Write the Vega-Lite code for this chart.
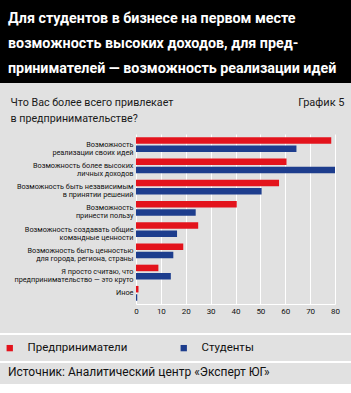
{
  "$schema": "https://vega.github.io/schema/vega-lite/v6.json",
  "background": "#e1e1e1",
  "padding": 0,
  "spacing": 0,
  "columns": 1,
  "align": "none",
  "config": {
    "view": {"stroke": null},
    "font": "Roboto"
  },
  "concat": [
    {
      "width": 351,
      "height": 83,
      "view": {"fill": "#000000", "stroke": null},
      "title": {
        "text": ["Для студентов в бизнесе на первом месте", "возможность высоких доходов, для пред-", "принимателей — возможность реализации идей"],
        "orient": "top", "anchor": "start", "frame": "group",
        "offset": -87, "baseline": "alphabetic", "lineHeight": 25,
        "fontSize": 14.3, "font": "Roboto", "fontWeight": "bold",
        "color": "#ffffff", "dx": 8
      },
      "data": {"values": [{}]},
      "mark": {"type": "text"},
      "encoding": {}
    },
    {
      "width": 351,
      "height": 170,
      "data": {"values": [
        {"cat": "Возможность\nреализации своих идей", "series": "Предприниматели", "value": 78.5},
        {"cat": "Возможность\nреализации своих идей", "series": "Студенты", "value": 64.5},
        {"cat": "Возможность более высоких\nличных доходов", "series": "Предприниматели", "value": 60.5},
        {"cat": "Возможность более высоких\nличных доходов", "series": "Студенты", "value": 80},
        {"cat": "Возможность быть независимым\nв принятии решений", "series": "Предприниматели", "value": 57.5},
        {"cat": "Возможность быть независимым\nв принятии решений", "series": "Студенты", "value": 50.5},
        {"cat": "Возможность\nпринести пользу", "series": "Предприниматели", "value": 40.5},
        {"cat": "Возможность\nпринести пользу", "series": "Студенты", "value": 24},
        {"cat": "Возможность создавать общие\nкомандные ценности", "series": "Предприниматели", "value": 25},
        {"cat": "Возможность создавать общие\nкомандные ценности", "series": "Студенты", "value": 16.5},
        {"cat": "Возможность быть ценностью\nдля города, региона, страны", "series": "Предприниматели", "value": 19},
        {"cat": "Возможность быть ценностью\nдля города, региона, страны", "series": "Студенты", "value": 15},
        {"cat": "Я просто считаю, что\nпредпринимательство — это круто", "series": "Предприниматели", "value": 9},
        {"cat": "Я просто считаю, что\nпредпринимательство — это круто", "series": "Студенты", "value": 14},
        {"cat": "Иное", "series": "Предприниматели", "value": 1},
        {"cat": "Иное", "series": "Студенты", "value": 0.5}
      ]},
      "layer": [
        {
          "mark": {"type": "bar"},
          "encoding": {
            "y": {
              "field": "cat", "type": "nominal", "sort": null,
              "scale": {"paddingInner": 0.3, "paddingOuter": 0.15},
              "axis": {
                "domain": false, "ticks": false, "grid": false, "offset": -136,
                "labelPadding": 3, "labelFontSize": 7.3, "labelColor": "#111111",
                "labelLineHeight": 8, "labelExpr": "split(datum.label, '\\n')",
                "labelLimit": 0,
                "maxExtent": 130,
                "title": ["Что Вас более всего привлекает", "в предпринимательстве?"],
                "titleAngle": 0, "titleAlign": "left", "titleBaseline": "alphabetic",
                "titleX": -126, "titleY": -29, "titleFontSize": 10.7, "titleFontWeight": "normal",
                "titleLineHeight": 16.5, "titleColor": "#1a1a1a"
              }
            },
            "yOffset": {
              "field": "series", "type": "nominal", "sort": ["Предприниматели", "Студенты"],
              "scale": {"paddingInner": 0.22}
            },
            "x": {
              "field": "value", "type": "quantitative",
              "scale": {"domain": [0, 80], "nice": false, "range": [136, 335]},
              "axis": {
                "orient": "bottom", "values": [0, 10, 20, 30, 40, 50, 60, 70, 80],
                "grid": true, "gridColor": "#ffffff", "gridWidth": 1, "gridOpacity": 1,
                "domain": true, "domainColor": "#ffffff", "domainWidth": 1,
                "ticks": false, "labelPadding": 3, "labelFontSize": 8, "labelColor": "#111111",
                "labelFlush": false,
                "minExtent": 29, "maxExtent": 29, "title": null
              }
            },
            "color": {
              "field": "series", "type": "nominal",
              "scale": {"domain": ["Предприниматели", "Студенты"], "range": ["#e3131c", "#1d3d8d"]},
              "legend": {
                "orient": "none", "legendX": 4, "legendY": 342,
                "direction": "horizontal", "title": null,
                "symbolType": "square", "symbolSize": 40, "symbolStrokeWidth": 0,
                "labelFontSize": 11.5, "labelColor": "#111111", "labelOffset": 12,
                "columnPadding": 50, "padding": 0
              }
            }
          }
        },
        {
          "mark": {"type": "text"},
          "encoding": {
            "x": {
              "field": "value", "type": "quantitative",
              "axis": {
                "orient": "top", "labels": false, "ticks": false, "domain": false, "grid": false,
                "minExtent": 51, "maxExtent": 51,
                "title": "График 5", "titleAngle": 0, "titleAlign": "right",
                "titleBaseline": "alphabetic", "titleX": 344, "titleY": -29,
                "titleFontSize": 11, "titleFontWeight": "normal", "titleColor": "#1a1a1a"
              }
            },
            "text": {"value": ""}
          }
        }
      ],
      "resolve": {"axis": {"x": "independent"}}
    },
    {
      "width": 351,
      "height": 2,
      "view": {"fill": "#ffffff", "stroke": null},
      "data": {"values": []},
      "mark": {"type": "text"},
      "encoding": {}
    },
    {
      "width": 351,
      "height": 26,
      "data": {"values": []},
      "mark": {"type": "text"},
      "encoding": {}
    },
    {
      "width": 351,
      "height": 2,
      "view": {"fill": "#ffffff", "stroke": null},
      "data": {"values": []},
      "mark": {"type": "text"},
      "encoding": {}
    },
    {
      "width": 351,
      "height": 3,
      "data": {"values": []},
      "mark": {"type": "text"},
      "encoding": {}
    },
    {
      "width": 351,
      "height": 10,
      "view": {"fill": "#ffffff", "stroke": null},
      "title": {
        "text": "Источник: Аналитический центр «Эксперт ЮГ»",
        "orient": "top", "anchor": "start", "frame": "group",
        "offset": 5,
        "fontSize": 12, "fontWeight": "normal", "color": "#111111", "dx": 8
      },
      "data": {"values": []},
      "mark": {"type": "text"},
      "encoding": {}
    }
  ]
}
